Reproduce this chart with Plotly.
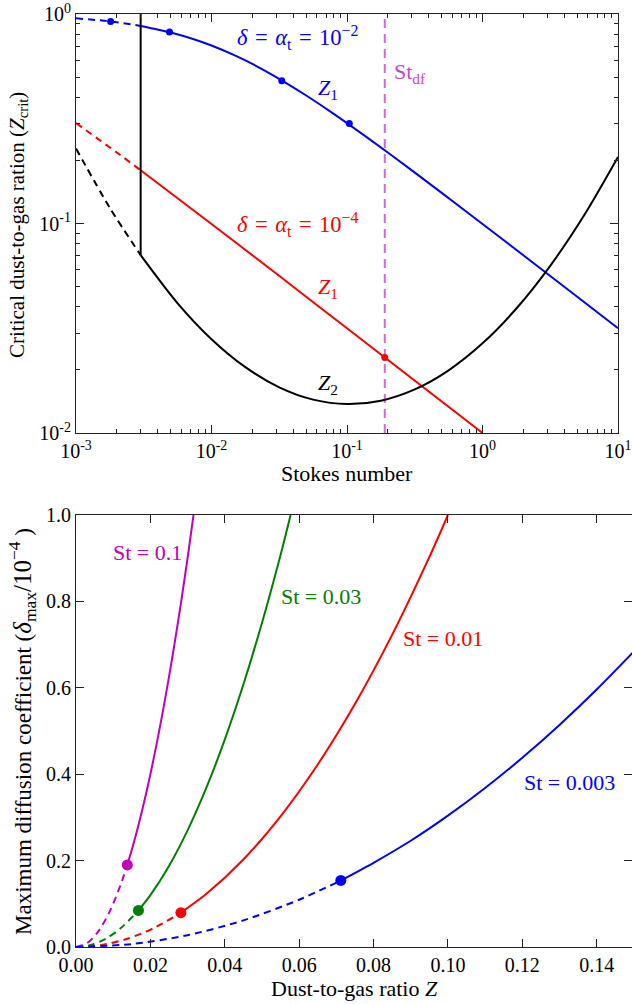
import plotly.graph_objects as go

# ---------------- data: top panel (Stokes number vs critical Z) ----------------
st_blue_dash = [0.001, 0.0015, 0.002, 0.003]
z_blue_dash = [0.9535, 0.9325, 0.9129, 0.8771]
st_blue = [0.003, 0.005, 0.0075, 0.01, 0.015, 0.02, 0.03, 0.05, 0.075, 0.1, 0.2, 0.5, 1.0, 2.0, 5.0, 10.0]
z_blue = [0.8771, 0.8165, 0.7559, 0.7071, 0.6325, 0.5774, 0.5, 0.4082, 0.343, 0.3015, 0.2182, 0.14, 0.0995, 0.0706, 0.0447, 0.0316]
st_blue_dots = [0.0018, 0.0049, 0.033, 0.104]
z_blue_dots = [0.92, 0.82, 0.48, 0.30]

st_red_dash = [0.001, 0.002, 0.003]
z_red_dash = [0.3015, 0.2182, 0.1796]
st_red = [0.003, 0.01, 0.03, 0.1, 0.3, 1.0]
z_red = [0.1796, 0.0995, 0.0577, 0.0316, 0.01826, 0.0100]
st_red_dot = [0.19]
z_red_dot = [0.0229]

st_black_dash = [0.001, 0.001778, 0.003]
z_black_dash = [0.2280, 0.1186, 0.07065]
st_black = [0.003, 0.005623, 0.01, 0.01778, 0.03162, 0.05623, 0.1, 0.1778, 0.3162, 0.5623, 1.0, 1.778, 3.162, 5.623, 10.0]
z_black = [0.07065, 0.04161, 0.02805, 0.02062, 0.01652, 0.01443, 0.01374, 0.01426, 0.01614, 0.01992, 0.02679, 0.03928, 0.06281, 0.1095, 0.2080]
st_vert = [0.003, 0.003]
z_vert = [0.07065, 1.0]
st_df = [0.19, 0.19]
z_df = [0.01, 1.0]

x_top_ticks = [0.001, 0.01, 0.1, 1.0, 10.0]
x_top_text = ["10<sup>-3</sup>", "10<sup>-2</sup>", "10<sup>-1</sup>", "10<sup>0</sup>", "10<sup>1</sup>"]
y_top_ticks = [0.01, 0.1, 1.0]
y_top_text = ["10<sup>-2</sup>", "10<sup>-1</sup>", "10<sup>0</sup>"]

# ---------------- data: bottom panel (Z vs delta_max/1e-4) ----------------
zm_dash = [0.0, 0.003, 0.006, 0.009, 0.012, 0.0138]
dm_dash = [0.0, 0.009, 0.036, 0.081, 0.144, 0.19]
zm = [0.0138, 0.016, 0.018, 0.020, 0.022, 0.024, 0.026, 0.028, 0.030, 0.0316]
dm = [0.19, 0.256, 0.324, 0.4, 0.484, 0.576, 0.676, 0.784, 0.9, 1.0]

zg_dash = [0.0, 0.004, 0.008, 0.012, 0.0168]
dg_dash = [0.0, 0.0048, 0.0192, 0.0432, 0.0847]
zg = [0.0168, 0.02, 0.025, 0.03, 0.035, 0.04, 0.045, 0.05, 0.055, 0.0577]
dg = [0.0847, 0.12, 0.1875, 0.27, 0.3675, 0.48, 0.6075, 0.75, 0.9075, 1.0]

zr_dash = [0.0, 0.007, 0.014, 0.021, 0.0282]
dr_dash = [0.0, 0.0049, 0.0196, 0.0441, 0.0795]
zr = [0.0282, 0.035, 0.045, 0.055, 0.065, 0.075, 0.085, 0.095, 0.1]
dr = [0.0795, 0.1225, 0.2025, 0.3025, 0.4225, 0.5625, 0.7225, 0.9025, 1.0]

zb_dash = [0.0, 0.015, 0.03, 0.045, 0.06, 0.0712]
db_dash = [0.0, 0.0068, 0.0274, 0.0616, 0.1094, 0.154]
zb = [0.0712, 0.08, 0.09, 0.10, 0.11, 0.12, 0.13, 0.14, 0.15]
db = [0.154, 0.195, 0.246, 0.304, 0.368, 0.438, 0.514, 0.596, 0.684]

x_bot_ticks = [0.0, 0.02, 0.04, 0.06, 0.08, 0.10, 0.12, 0.14]
y_bot_ticks = [0.0, 0.2, 0.4, 0.6, 0.8, 1.0]

# ---------------- figure ----------------
W, H = 632, 1004
FONT = "Liberation Serif"
BLUE, RED, BLACK = "#0000ff", "#ff0000", "#000000"
MAG, GREEN = "#bf00bf", "#008000"
DF_COL = "rgba(191,0,191,0.6)"


def px(x):
    return x / W


def py(y):
    return 1 - y / H


fig = go.Figure()


def line(x, y, color, dash=None, xa="x", ya="y", width=2, spline=True):
    fig.add_trace(go.Scatter(
        x=x, y=y, mode="lines", xaxis=xa, yaxis=ya, showlegend=False, hoverinfo="skip",
        line=dict(color=color, width=width, dash=dash or "solid",
                  shape="spline" if spline else "linear", smoothing=0.8)))


def dots(x, y, color, size, xa="x", ya="y"):
    fig.add_trace(go.Scatter(
        x=x, y=y, mode="markers", xaxis=xa, yaxis=ya, showlegend=False, hoverinfo="skip",
        marker=dict(color=color, size=size, line=dict(width=0))))


# top panel
line(st_df, z_df, DF_COL, dash="9px,6px", spline=False)
line(st_blue_dash, z_blue_dash, BLUE, dash="7px,5px")
line(st_blue, z_blue, BLUE)
dots(st_blue_dots, z_blue_dots, BLUE, 7)
line(st_red_dash, z_red_dash, RED, dash="7px,5px")
line(st_red, z_red, RED)
dots(st_red_dot, z_red_dot, RED, 7)
line(st_black_dash, z_black_dash, BLACK, dash="7px,5px")
line(st_black, z_black, BLACK)
line(st_vert, z_vert, BLACK, spline=False)

# bottom panel
for zd, dd, zs, ds, col in [(zm_dash, dm_dash, zm, dm, MAG), (zg_dash, dg_dash, zg, dg, GREEN),
                            (zr_dash, dr_dash, zr, dr, RED), (zb_dash, db_dash, zb, db, BLUE)]:
    line(zd, dd, col, dash="7px,5px", xa="x2", ya="y2")
    line(zs, ds, col, xa="x2", ya="y2")
    dots([zs[0]], [ds[0]], col, 11, xa="x2", ya="y2")

tickfont = dict(family=FONT, size=20, color="black")
common = dict(showline=True, linecolor="#222", linewidth=1.2, mirror="allticks",
              ticks="inside", ticklen=8, tickwidth=1, tickcolor="#222",
              showgrid=False, zeroline=False, tickfont=tickfont, automargin=False)

minor_x = [m * 10 ** e for e in range(-3, 1) for m in range(2, 10)]
minor_y = [m * 10 ** e for e in range(-2, 0) for m in range(2, 10)]

fig.update_layout(
    width=W, height=H, margin=dict(l=0, r=0, t=0, b=0, autoexpand=False),
    paper_bgcolor="white", plot_bgcolor="white",
    xaxis=dict(type="log", range=[-3, 1], domain=[px(76), px(618)], anchor="y",
               tickmode="array", tickvals=x_top_ticks, ticktext=x_top_text,
               minor=dict(tickmode="array", tickvals=minor_x, ticks="inside", ticklen=4,
                          tickcolor="#222", showgrid=False),
               **common),
    yaxis=dict(type="log", range=[-2, 0], domain=[py(433), py(14)], anchor="x",
               tickmode="array", tickvals=y_top_ticks, ticktext=y_top_text,
               minor=dict(tickmode="array", tickvals=minor_y, ticks="inside", ticklen=4,
                          tickcolor="#222", showgrid=False),
               **common),
    xaxis2=dict(range=[0, 0.1495], domain=[px(76), 1.0], anchor="y2",
                tickmode="array", tickvals=x_bot_ticks, tickformat=".2f", **common),
    yaxis2=dict(range=[0, 1], domain=[py(947), py(515)], anchor="x2",
                tickmode="array", tickvals=y_bot_ticks, tickformat=".1f", **common),
)


def ann(text, x, y, color="black", size=21, angle=0):
    fig.add_annotation(text=text, x=px(x), y=py(y), xref="paper", yref="paper",
                       showarrow=False, xanchor="center", yanchor="middle",
                       textangle=angle, font=dict(family=FONT, size=size, color=color))


SP = "\u2004"

# axis titles
ann("Stokes number", 347, 473, size=22)
ann("Critical dust-to-gas ration (<i>Z</i><sub>crit</sub>)", 18, 225, angle=-90)
ann("Dust-to-gas ratio <i>Z</i>", 354, 988, size=22)
ann("Maximum diffusion coefficient (<span style='font-size:25px'><i>δ</i><sub>max</sub>/10<sup>−4</sup></span> )",
    22, 732, size=23, angle=-90)

# top panel labels
ann(f"<i>δ</i>{SP}={SP}<i>α</i><sub>t</sub>{SP}={SP}10<sup>−2</sup>", 297, 38, BLUE, size=22.5)
ann("St<sub>df</sub>", 410, 73, "rgb(204,68,204)", size=22)
ann("<i>Z</i><sub>1</sub>", 328, 89, BLUE, size=22)
ann(f"<i>δ</i>{SP}={SP}<i>α</i><sub>t</sub>{SP}={SP}10<sup>−4</sup>", 297, 224, RED, size=22.5)
ann("<i>Z</i><sub>1</sub>", 328, 288, RED, size=22)
ann("<i>Z</i><sub>2</sub>", 328, 384, BLACK, size=22)

# bottom panel labels
ann("St = 0.1", 147, 552, MAG, size=22)
ann("St = 0.03", 321, 596, GREEN, size=22)
ann("St = 0.01", 443, 638, RED, size=22)
ann("St = 0.003", 569, 782, BLUE, size=22)

fig.write_html("out.html", config={"displayModeBar": False},
               post_script="document.body.style.margin='0px';document.body.style.overflow='hidden';")
